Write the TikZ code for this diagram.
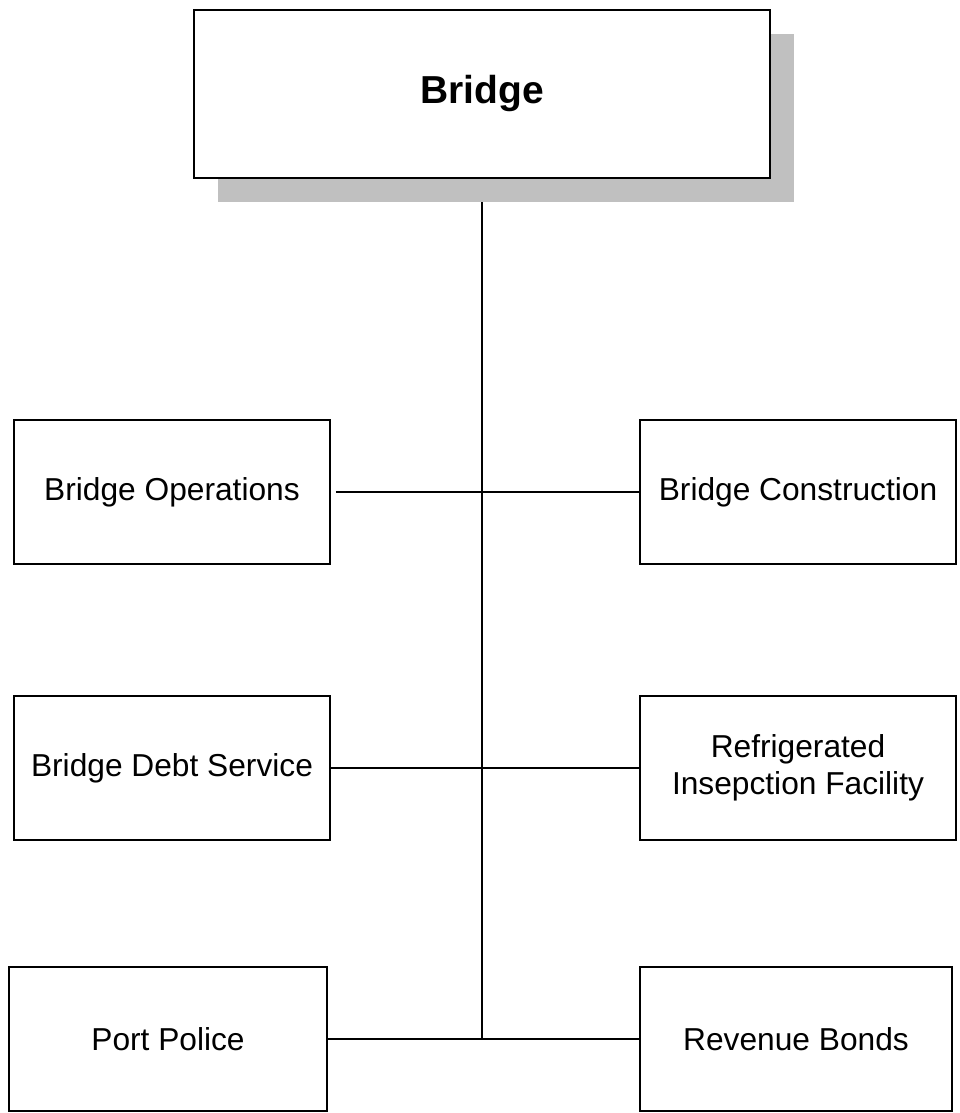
\documentclass[tikz,border=0pt]{standalone}
\usepackage{fontspec}
\setmainfont{Liberation Sans}
\usetikzlibrary{shadows,backgrounds}
\definecolor{shadowgray}{HTML}{C0C0C0}
\begin{document}
\begin{tikzpicture}[x=1pt,y=-1pt,
  unitbox/.style={draw=black, line width=1.6pt, fill=white, rectangle,
    inner sep=0pt, minimum width=316pt, minimum height=144pt, align=center,
    font=\fontsize{31.7}{37}\selectfont},
  headbox/.style={draw=black, line width=1.6pt, fill=white, rectangle,
    inner sep=0pt, minimum width=576pt, minimum height=168pt,
    font=\fontsize{39}{46}\selectfont\bfseries,
    general shadow={fill=shadowgray, shadow xshift=24pt, shadow yshift=-24pt}},
  link/.style={draw=black, line width=1.3pt}]
  \useasboundingbox (0,0) rectangle (959,1113);

  % head of the organisation
  \node[headbox] (top) at (482,94) {Bridge};

  % departments
  \node[unitbox] (bo)  at (172,492) {Bridge Operations};
  \node[unitbox] (bc)  at (798,492) {Bridge Construction};
  \node[unitbox] (bds) at (172,768) {Bridge Debt Service};
  \node[unitbox] (rif) at (798,768) {Refrigerated\\Insepction Facility};
  \node[unitbox, minimum width=318pt] (pp) at (168,1039) {Port Police};
  \node[unitbox, minimum width=312pt] (rb) at (796,1039) {Revenue Bonds};

  % bottom end of the trunk line
  \coordinate (j3) at (482,1039);

  \begin{scope}[on background layer]
    \draw[link] (top) -- (j3);
    \draw[link, shorten <=5pt] (bo.east) -- (bc.west);
    \draw[link] (bds.east) -- (rif.west);
    \draw[link] (pp.east) -- (rb.west);
  \end{scope}
\end{tikzpicture}
\end{document}
